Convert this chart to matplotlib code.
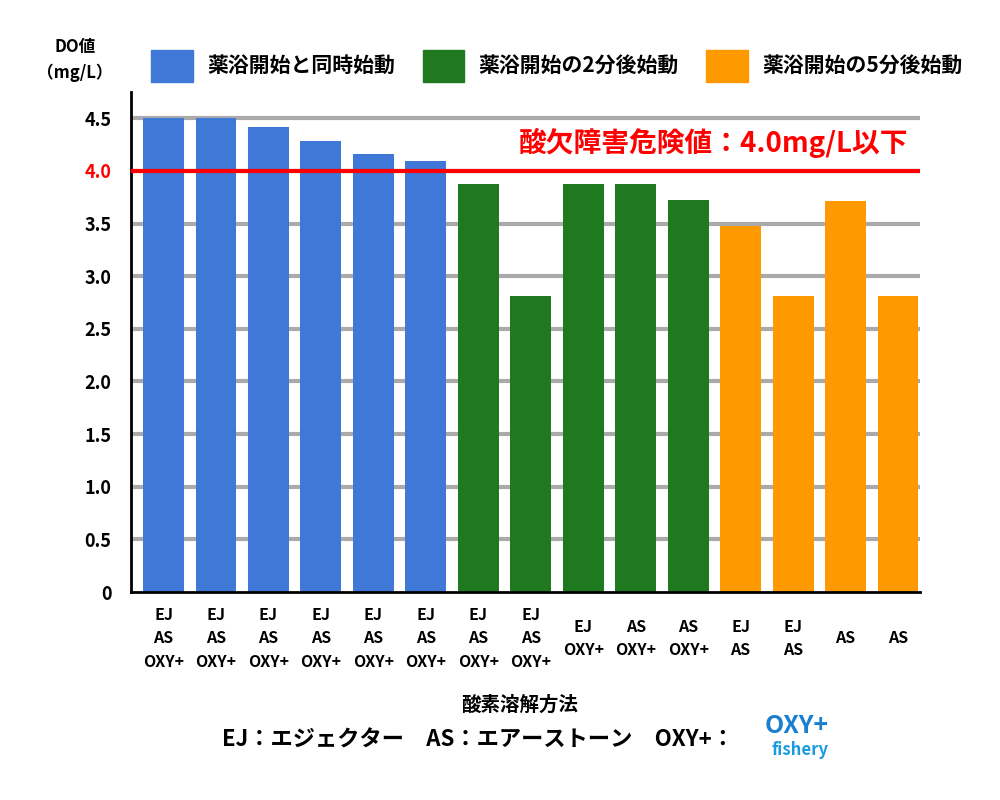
import matplotlib
matplotlib.use("Agg")
import matplotlib.pyplot as plt
from matplotlib.patches import Patch
from matplotlib.transforms import blended_transform_factory

plt.rcParams["font.family"] = ["Noto Sans CJK JP", "DejaVu Sans"]
plt.rcParams["font.weight"] = "bold"

labels = ["EJ\nAS\nOXY+"] * 8 + ["EJ\nOXY+", "AS\nOXY+", "AS\nOXY+", "EJ\nAS", "EJ\nAS", "AS", "AS"]
values = [4.5, 4.5, 4.42, 4.28, 4.16, 4.09,
          3.88, 2.81, 3.88, 3.88, 3.72,
          3.48, 2.81, 3.71, 2.81]
groups = [0] * 6 + [1] * 5 + [2] * 4
colors = ["#3f78d6", "#1f7a1f", "#ff9900"]
legend_names = ["薬浴開始と同時始動", "薬浴開始の2分後始動", "薬浴開始の5分後始動"]
yticks = [0, 0.5, 1.0, 1.5, 2.0, 2.5, 3.0, 3.5, 4.0, 4.5]
ytick_labels = ["0", "0.5", "1.0", "1.5", "2.0", "2.5", "3.0", "3.5", "4.0", "4.5"]

fig = plt.figure(figsize=(10, 8), dpi=100)
ax = fig.add_axes([0.131, 0.26, 0.789, 0.625])

for y in yticks[1:]:
    ax.axhline(y, color="#aaaaaa", lw=3, zorder=0)

x = list(range(len(values)))
ax.bar(x, values, width=0.78, color=[colors[g] for g in groups], zorder=2)
ax.axhline(4.0, color="#ff0000", lw=3, zorder=3)
ax.text(14.2, 4.12, "酸欠障害危険値：4.0mg/L以下", color="#ff0000",
        fontsize=20, fontweight="bold", ha="right", va="bottom")

ax.set_xlim(-0.62, 14.42)
ax.set_ylim(0, 4.75)
ax.set_yticks(yticks)
ax.set_yticklabels(ytick_labels, fontsize=13, fontweight="bold")
ax.get_yticklabels()[8].set_color("#ff0000")
ax.tick_params(axis="y", length=0, pad=14)
ax.set_xticks([])
for s in ["top", "right"]:
    ax.spines[s].set_visible(False)
for s in ["left", "bottom"]:
    ax.spines[s].set_linewidth(2)

tr = blended_transform_factory(ax.transData, fig.transFigure)
for xi, lab in zip(x, labels):
    ax.text(xi, 0.202, lab, transform=tr, ha="center", va="center",
            fontsize=11.5, fontweight="bold", linespacing=1.6)

fig.text(0.075, 0.925, "DO値\n（mg/L）", ha="center", va="center", fontsize=12,
         fontweight="bold", linespacing=1.6)

handles = [Patch(color=c) for c in colors]
fig.legend(handles, legend_names, loc="center", bbox_to_anchor=(0.557, 0.918), ncol=3,
           frameon=False, handlelength=2.0, handleheight=2.0,
           columnspacing=1.3, handletextpad=0.7, prop={"weight": "bold", "size": 15})

fig.text(0.52, 0.118, "酸素溶解方法", ha="center", va="center", fontsize=14, fontweight="bold")
fig.text(0.222, 0.075, "EJ：エジェクター　AS：エアーストーン　OXY+：", ha="left", va="center",
         fontsize=16, fontweight="bold")
fig.text(0.797, 0.092, "OXY+", ha="center", va="center", fontsize=18, color="#1a7fd0",
         fontweight="bold")
fig.text(0.80, 0.062, "fishery", ha="center", va="center", fontsize=12, color="#1a9be0",
         fontweight="bold")

fig.savefig("out.png", dpi=100)
